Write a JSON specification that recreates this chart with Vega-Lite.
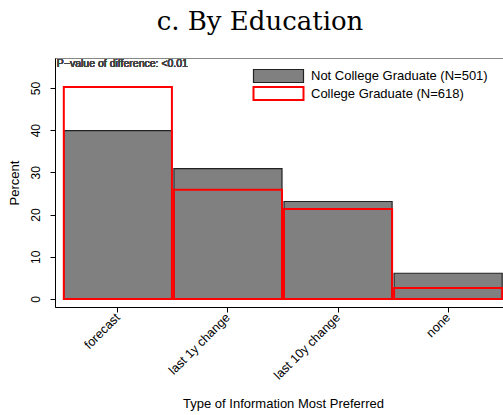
{
  "$schema": "https://vega.github.io/schema/vega-lite/v6.json",
  "width": 456,
  "height": 249,
  "autosize": {"type": "none"},
  "padding": {"left": 55, "top": 58, "right": 0, "bottom": 108},
  "background": "white",
  "title": {"text": "c.  By Education", "font": "DejaVu Serif", "fontSize": 26, "fontWeight": "normal", "color": "#000", "anchor": "middle", "dx": -23, "offset": 23},
  "config": {"view": {"stroke": "#888", "strokeWidth": 1}, "font": "Liberation Sans"},
  "data": {"values": [
    {"info": "forecast", "group": "Not College Graduate (N=501)", "pct": 39.9},
    {"info": "last 1y change", "group": "Not College Graduate (N=501)", "pct": 30.9},
    {"info": "last 10y change", "group": "Not College Graduate (N=501)", "pct": 23.1},
    {"info": "none", "group": "Not College Graduate (N=501)", "pct": 6.1},
    {"info": "forecast", "group": "College Graduate (N=618)", "pct": 50.2},
    {"info": "last 1y change", "group": "College Graduate (N=618)", "pct": 25.9},
    {"info": "last 10y change", "group": "College Graduate (N=618)", "pct": 21.3},
    {"info": "none", "group": "College Graduate (N=618)", "pct": 2.6}
  ]},
  "layer": [
    {
      "mark": {"type": "bar"},
      "encoding": {
        "x": {"field": "info", "type": "nominal", "sort": ["forecast", "last 1y change", "last 10y change", "none"],
          "scale": {"paddingInner": 0.018, "paddingOuter": 0.08},
          "axis": {"title": "Type of Information Most Preferred", "titleFont": "Liberation Sans", "titleFontSize": 13, "titleFontWeight": "normal", "titleColor": "#000", "titlePadding": 16,
            "labelFont": "Liberation Sans", "labelAngle": -45, "labelAlign": "right", "labelBaseline": "middle", "labelFontSize": 12.5, "labelColor": "#000", "labelPadding": 3,
            "domainColor": "#000", "tickColor": "#000", "tickSize": 5, "grid": false}},
        "y": {"field": "pct", "type": "quantitative", "stack": null,
          "scale": {"domain": [-1.9, 57.1], "nice": false, "zero": false},
          "axis": {"title": "Percent", "titleFont": "Liberation Sans", "titleFontSize": 13, "titleFontWeight": "normal", "titleColor": "#000", "titlePadding": 8,
            "values": [0, 10, 20, 30, 40, 50], "labelFont": "Liberation Sans", "labelAngle": -90, "labelAlign": "center", "labelBaseline": "bottom", "labelFontSize": 12, "labelColor": "#000", "labelPadding": 8,
            "domainColor": "#000", "tickColor": "#000", "tickSize": 5, "grid": false}},
        "y2": {"datum": 0},
        "fill": {"field": "group", "type": "nominal", "sort": null,
          "scale": {"domain": ["Not College Graduate (N=501)", "College Graduate (N=618)"], "range": ["#808080", "#ffffff"]},
          "legend": {"orient": "none", "legendX": 216, "legendY": 11, "title": null,
            "symbolType": "M-4,-1.04L4,-1.04L4,1.04L-4,1.04Z", "symbolSize": 156.25,
            "labelFont": "Liberation Sans", "labelFontSize": 13, "labelLimit": 400, "labelColor": "#000", "labelOffset": 25, "rowPadding": -2}},
        "stroke": {"field": "group", "type": "nominal", "sort": null,
          "scale": {"domain": ["Not College Graduate (N=501)", "College Graduate (N=618)"], "range": ["#222222", "#ff0000"]}},
        "strokeWidth": {"field": "group", "type": "nominal", "sort": null,
          "scale": {"domain": ["Not College Graduate (N=501)", "College Graduate (N=618)"], "range": [1.2, 2]}},
        "fillOpacity": {"field": "group", "type": "nominal", "sort": null,
          "scale": {"domain": ["Not College Graduate (N=501)", "College Graduate (N=618)"], "range": [1, 0]}}
      }
    },
    {
      "mark": {"type": "text", "align": "left", "baseline": "top", "font": "Liberation Sans", "fontSize": 10.5, "fontWeight": "normal", "color": "#444", "dx": -7, "dy": 1},
      "encoding": {
        "x": {"datum": "forecast", "type": "nominal", "bandPosition": 0},
        "y": {"datum": 57.1, "type": "quantitative"},
        "text": {"value": "P−value of difference: <0.01"}
      }
    }
  ]
}
